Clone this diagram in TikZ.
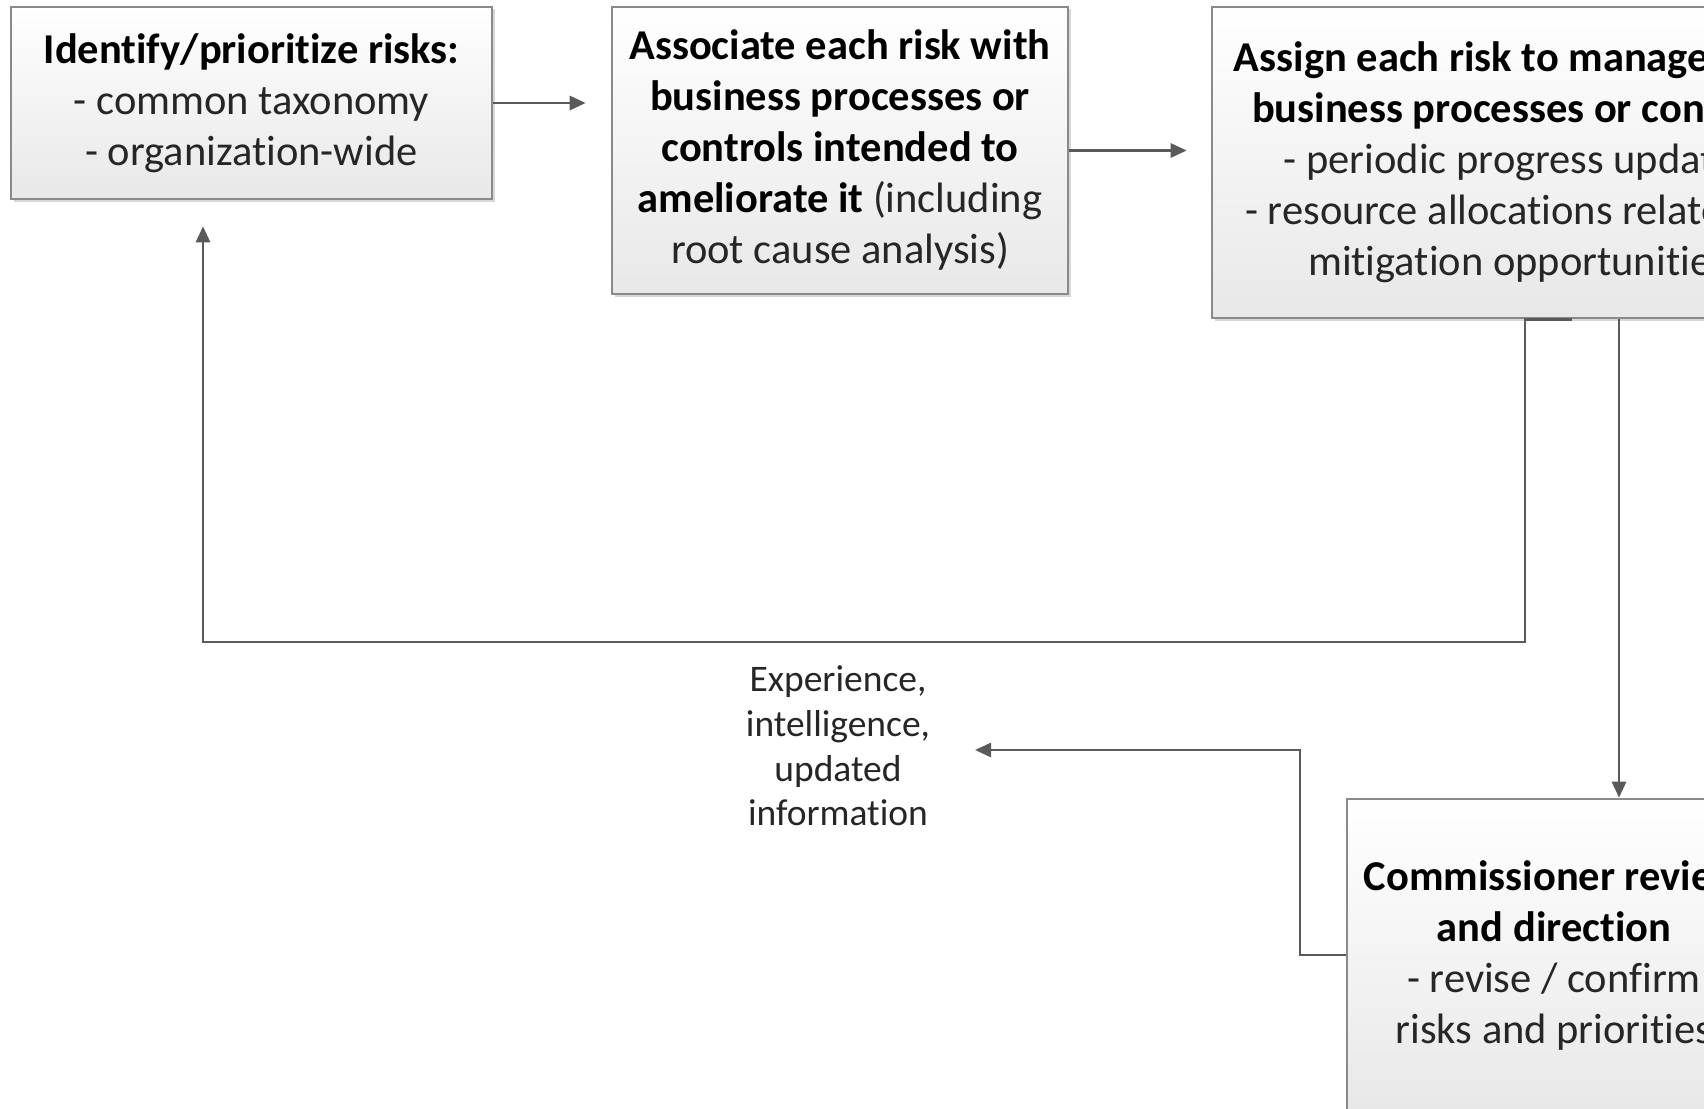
\documentclass[tikz,border=0pt]{standalone}
\usepackage{fontspec}
\setmainfont{Carlito}[Ligatures=NoCommon]
\usetikzlibrary{arrows.meta,shadows,calc}
\definecolor{edge}{HTML}{8A8A8A}
\definecolor{conn}{HTML}{5A5A5A}
\definecolor{txt}{HTML}{262626}
\begin{document}
\begin{tikzpicture}[x=1pt,y=-1pt,
  procbox/.style={draw=edge, line width=2.6pt, top color=white, bottom color=black!9,
    inner sep=0pt, align=center, text=txt,
    font=\fontsize{42.5}{51}\selectfont,
    drop shadow={shadow xshift=2.5pt, shadow yshift=-2.5pt, opacity=0.25, fill=black!60}},
  arr/.style={draw=conn, line width=2.8pt, -{Triangle[length=16pt,width=14pt]}},
  lbl/.style={align=center, text=txt, inner sep=0pt, font=\fontsize{37.5}{44.6}\selectfont}]
\useasboundingbox (0,0) rectangle (1704,1108);
\clip (0,0) rectangle (1704,1108);
\fill[white] (0,0) rectangle (1704,1108);

\node[procbox, minimum width=481pt, minimum height=192pt] (b1) at (251.5,103)
  {\textbf{\color{black}Identify/prioritize risks:}\\- common taxonomy\\- organization-wide};
\node[procbox, minimum width=456pt, minimum height=287pt] (b2) at (840,150.5)
  {\color{black}\textbf{Associate each risk with}\\\textbf{\color{black}business processes or}\\\textbf{\color{black}controls intended to}\\\textbf{\color{black}ameliorate it} (including\\root cause analysis)};
\node[procbox, minimum width=612pt, minimum height=311pt] (b3) at (1518,162.5)
  {\textbf{\color{black}Assign each risk to management}\\\textbf{\color{black}business processes or controls}\\- periodic progress updates\\- resource allocations related to\\mitigation opportunities};
\node[procbox, minimum width=414pt, minimum height=313pt] (b4) at (1554,955.5)
  {\textbf{\color{black}Commissioner review}\\\textbf{\color{black}and direction}\\- revise / confirm\\risks and priorities};

\node[lbl] (info) at (838,746) {Experience,\\intelligence,\\updated\\information};
\coordinate (tipL) at (975,750);

\draw[arr, shorten >=25pt] (b1.east) -- (b1.east -| b2.west);
\draw[arr, shorten >=24pt] (b2.east) -- (b2.east -| b3.west);
\draw[arr, shorten >=26pt] (b3.south -| 1572,0) -- (b3.south -| 1525,0) -- (1525,642) -| (b1.south -| 203,0);
\draw[arr] (b3.south -| 1619,0) -- (b4.north -| 1619,0);
\draw[arr] (b4.west |- 0,955) -- (1300,955) |- (tipL);
\end{tikzpicture}
\end{document}
